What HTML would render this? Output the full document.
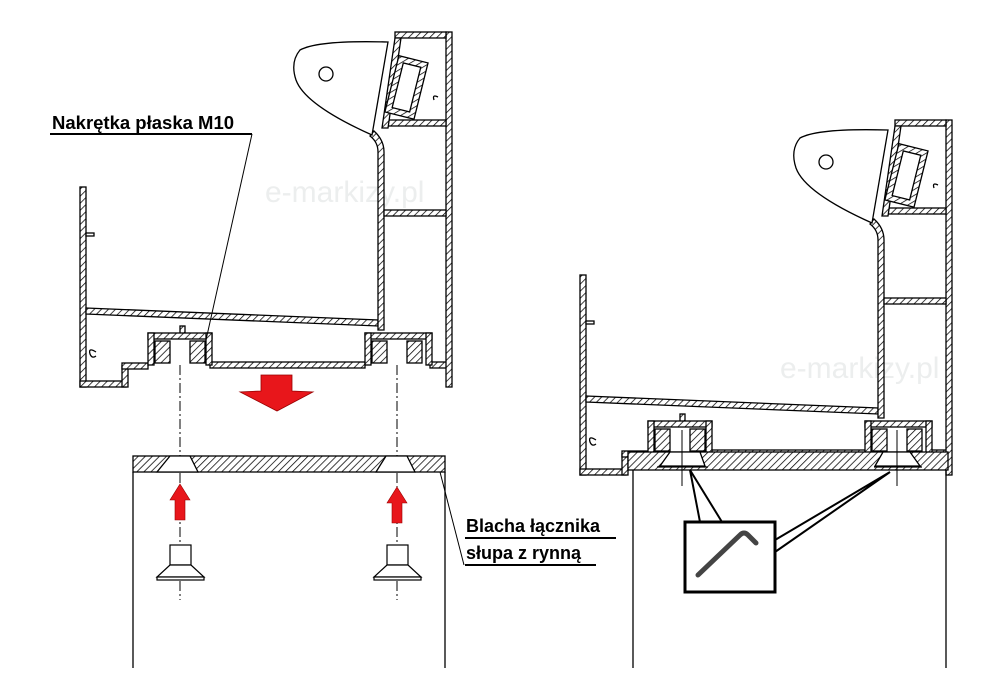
<!DOCTYPE html>
<html><head><meta charset="utf-8"><style>
html,body{margin:0;padding:0;background:#fff;}
svg{display:block;}
text{font-family:"Liberation Sans",sans-serif;}
</style></head><body>
<svg width="1000" height="700" viewBox="0 0 1000 700" xmlns="http://www.w3.org/2000/svg">
<defs>
<pattern id="h" width="5" height="5" patternUnits="userSpaceOnUse" patternTransform="rotate(45)">
<rect width="5" height="5" fill="#fff"/><line x1="0" y1="0" x2="0" y2="5" stroke="#000" stroke-width="1.5"/>
</pattern>
<g id="prof" stroke="#000" stroke-width="1.3" fill="url(#h)">
<rect x="80" y="187" width="6" height="200"/>
<rect x="86" y="233" width="8" height="3" fill="#fff"/>
<polygon points="86,308 378,320 378,326 86,314"/>
<rect x="80" y="381" width="46" height="6"/>
<rect x="122" y="366" width="6" height="21"/>
<rect x="122" y="363" width="26" height="6"/>
<rect x="210" y="362" width="155" height="6"/>
<rect x="430" y="362" width="18" height="6"/>
<rect x="180" y="326" width="5" height="10"/>
<path d="M378,330 L378,152 Q378,142 370,136 L374,131 Q384,140 384,152 L384,330 Z"/>
<rect x="446" y="32" width="6" height="355"/>
<rect x="384" y="120" width="62" height="6"/>
<rect x="384" y="210" width="62" height="6"/>
<rect x="395" y="32" width="51" height="6"/>
<polygon points="395,38 401,38 388,128 382,128"/>
<rect x="148" y="333" width="64" height="6"/>
<rect x="148" y="333" width="6" height="32"/>
<rect x="206" y="333" width="6" height="32"/>
<rect x="155" y="341" width="15" height="22"/>
<rect x="190" y="341" width="15" height="22"/>
<rect x="365" y="333" width="67" height="6"/>
<rect x="365" y="333" width="6" height="32"/>
<rect x="426" y="333" width="6" height="32"/>
<rect x="372" y="341" width="15" height="22"/>
<rect x="407" y="341" width="15" height="22"/>
<path d="M300,50 Q318,40 388,42 L372,135 Q305,105 296,80 Q290,62 300,50 Z" fill="#fff"/>
<circle cx="326" cy="74" r="7" fill="#fff"/>
<g transform="rotate(14 405 85)">
<rect x="392" y="58" width="30" height="58" fill="url(#h)"/>
<rect x="398" y="64" width="18" height="46" fill="#fff"/>
</g>
<path d="M96,352 q-8,-5 -6,2 q2,5 6,2" fill="none"/>
<path d="M438,97 q-6,-3 -4,3" fill="none"/>
</g>
</defs>

<text x="265" y="202" font-size="30" fill="#eceeee">e-markizy.pl</text>
<text x="780" y="378" font-size="30" fill="#eceeee">e-markizy.pl</text>

<use href="#prof"/>
<use href="#prof" transform="translate(500,88)"/>

<text x="52" y="129" font-size="18.5" font-weight="bold">Nakrętka płaska M10</text>
<line x1="50" y1="134" x2="252" y2="134" stroke="#000" stroke-width="2"/>
<line x1="252" y1="134" x2="206" y2="340" stroke="#000" stroke-width="1"/>

<polygon points="261,375 292,375 292,391 313,392 277,411 240,392 261,391" fill="#e8161b" stroke="#900" stroke-width="0.8"/>

<g stroke="#000" stroke-width="1" stroke-dasharray="10,3,2,3">
<line x1="180" y1="365" x2="180" y2="600"/>
<line x1="397" y1="365" x2="397" y2="600"/>
</g>

<g stroke="#000" stroke-width="1.3">
<rect x="133" y="456" width="312" height="16" fill="url(#h)"/>
<polygon points="170,456 190,456 198,472 157,472" fill="#fff"/>
<polygon points="386,456 407,456 415,472 376,472" fill="#fff"/>
<line x1="133" y1="472" x2="133" y2="668"/>
<line x1="445" y1="472" x2="445" y2="668"/>
</g>
<line x1="440" y1="472" x2="464" y2="565" stroke="#000" stroke-width="1"/>
<text x="466" y="532" font-size="18" font-weight="bold">Blacha łącznika</text>
<line x1="465" y1="538" x2="616" y2="538" stroke="#000" stroke-width="2"/>
<text x="466" y="559" font-size="18" font-weight="bold">słupa z rynną</text>
<line x1="465" y1="565" x2="596" y2="565" stroke="#000" stroke-width="2"/>

<polygon points="180,484 190,500 185,500 185,520 175,520 175,500 170,500" fill="#e8161b" stroke="#900" stroke-width="0.6"/>
<polygon points="397,487 407,503 402,503 402,523 392,523 392,503 387,503" fill="#e8161b" stroke="#900" stroke-width="0.6"/>

<g stroke="#000" stroke-width="1.2" fill="#fff">
<rect x="170" y="545" width="21" height="20"/>
<polygon points="170,565 191,565 204,577 157,577"/>
<rect x="157" y="577" width="47" height="3"/>
<rect x="387" y="545" width="21" height="20"/>
<polygon points="387,565 408,565 421,577 374,577"/>
<rect x="374" y="577" width="47" height="3"/>
</g>

<g stroke="#000" stroke-width="1.3">
<rect x="628" y="452" width="320" height="18" fill="url(#h)"/>
<polygon points="670,452 700,452 705,466 660,466" fill="#fff"/>
<polygon points="883,452 910,452 920,466 875,466" fill="#fff"/>
<line x1="657" y1="467" x2="708" y2="467"/>
<line x1="874" y1="467" x2="922" y2="467"/>
<line x1="633" y1="470" x2="633" y2="668"/>
<line x1="946" y1="470" x2="946" y2="668"/>
</g>
<g stroke="#000" stroke-width="1">
<line x1="682" y1="430" x2="682" y2="486"/>
<line x1="897" y1="430" x2="897" y2="486"/>
</g>

<g stroke="#000" stroke-width="2" fill="none">
<polyline points="700,522 690,470 722,522"/>
<polyline points="775,540 890,472 775,552"/>
<rect x="685" y="522" width="90" height="70" fill="#fff" stroke-width="3"/>
</g>
<path d="M698,575 L740,535 Q744,531 748,535 L756,543" fill="none" stroke="#444" stroke-width="5" stroke-linecap="round"/>
</svg>
</body></html>
